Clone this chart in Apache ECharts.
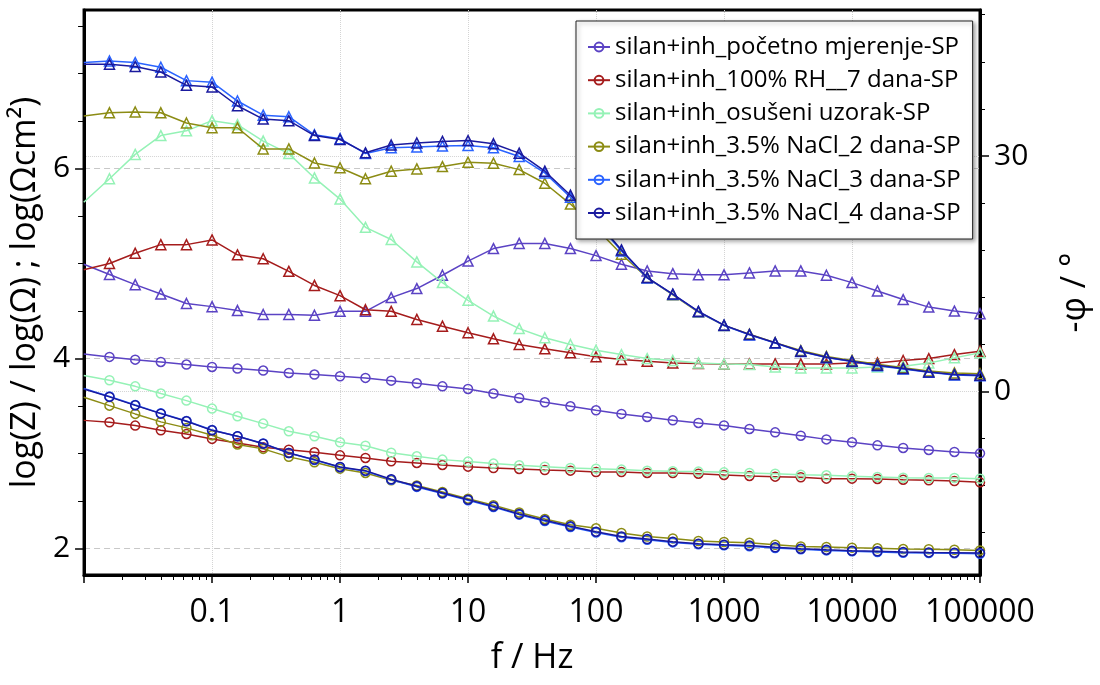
<!DOCTYPE html>
<html>
<head>
<meta charset="utf-8">
<script src="https://cdn.jsdelivr.net/npm/echarts@6/dist/echarts.min.js"></script>
<style>html,body{margin:0;padding:0;background:#fff}#c{width:1100px;height:685px}</style>
</head>
<body>
<div id="c"></div>
<script>
// ---------- data ----------
const freq = [0.00995, 0.0158, 0.0251, 0.0398, 0.0631, 0.1, 0.158, 0.251, 0.398, 0.631, 1, 1.58, 2.51, 3.98, 6.31, 10, 15.8, 25.1, 39.8, 63.1, 100, 158, 251, 398, 631, 1000, 1580, 2510, 3980, 6310, 10000, 15800, 25100, 39800, 63100, 100000];

const seriesNames = [
  'silan+inh_početno mjerenje-SP',
  'silan+inh_100% RH__7 dana-SP',
  'silan+inh_osušeni uzorak-SP',
  'silan+inh_3.5% NaCl_2 dana-SP',
  'silan+inh_3.5% NaCl_3 dana-SP',
  'silan+inh_3.5% NaCl_4 dana-SP'
];
const seriesColors = ['#5b43c4', '#a51c1c', '#95f2b6', '#8c8c14', '#2a63ff', '#1a1a9e'];

// log|Z| (circles, left axis)
const logZ_pocetno = [4.049,4.018,3.989,3.965,3.937,3.912,3.895,3.874,3.849,3.832,3.814,3.797,3.768,3.74,3.708,3.681,3.632,3.586,3.54,3.498,3.456,3.418,3.386,3.351,3.323,3.297,3.26,3.224,3.189,3.15,3.119,3.087,3.06,3.039,3.018,3.003];
const logZ_RH7 = [3.35,3.33,3.295,3.245,3.207,3.155,3.112,3.066,3.042,3.014,2.982,2.955,2.919,2.902,2.881,2.863,2.849,2.839,2.828,2.821,2.807,2.807,2.797,2.797,2.789,2.776,2.765,2.758,2.751,2.737,2.737,2.734,2.726,2.719,2.712,2.698];
const logZ_osuseni = [3.821,3.772,3.708,3.632,3.558,3.474,3.393,3.316,3.235,3.182,3.119,3.084,3.01,2.972,2.937,2.916,2.895,2.877,2.863,2.849,2.842,2.832,2.821,2.814,2.811,2.803,2.797,2.789,2.779,2.772,2.761,2.755,2.747,2.744,2.744,2.737];
const logZ_NaCl2 = [3.593,3.505,3.418,3.334,3.271,3.193,3.095,3.05,2.966,2.909,2.842,2.797,2.719,2.665,2.596,2.526,2.458,2.38,2.313,2.252,2.214,2.165,2.129,2.108,2.081,2.07,2.062,2.042,2.024,2.018,2.011,2.004,1.996,1.994,1.989,1.982];
const logZ_NaCl3 = [3.686,3.601,3.512,3.424,3.343,3.248,3.184,3.106,3.006,2.934,2.856,2.816,2.724,2.65,2.58,2.51,2.438,2.358,2.29,2.228,2.171,2.121,2.094,2.066,2.046,2.035,2.026,2.007,1.993,1.982,1.972,1.965,1.958,1.954,1.951,1.947];
const logZ_NaCl4 = [3.681,3.597,3.508,3.421,3.34,3.245,3.182,3.105,3.007,2.937,2.86,2.821,2.73,2.656,2.586,2.516,2.445,2.365,2.298,2.235,2.179,2.129,2.102,2.074,2.053,2.042,2.033,2.014,2.0,1.989,1.979,1.972,1.965,1.961,1.958,1.954];

// -phase (triangles, right axis)
const phi_pocetno = [16.2,14.9,13.6,12.4,11.2,10.8,10.3,9.8,9.8,9.7,10.2,10.2,11.95,13.1,14.8,16.6,18.2,18.85,18.85,18.2,17.3,16.2,15.35,15.0,14.85,14.85,15.1,15.35,15.35,14.8,13.86,12.8,11.7,10.74,10.23,9.9];
const phi_RH7 = [15.5,16.3,17.6,18.7,18.7,19.3,17.4,16.9,15.3,13.5,12.2,10.4,10.2,9.17,8.31,7.47,6.7,5.97,5.42,4.91,4.4,4.05,3.84,3.63,3.54,3.45,3.5,3.5,3.5,3.5,3.63,3.63,3.93,4.18,4.69,5.12];
const phi_osuseni = [24.1,27.1,30.2,32.6,33.2,34.5,34.0,31.9,30.3,27.2,24.5,20.9,19.35,16.5,13.86,11.6,9.6,8.0,6.83,5.97,5.24,4.69,4.18,3.93,3.63,3.5,3.41,3.12,2.99,2.99,2.99,3.12,3.2,3.63,4.27,4.91];
const phi_NaCl2 = [35.1,35.5,35.6,35.5,34.2,33.6,33.6,30.9,30.9,29.1,28.5,27.1,28.06,28.35,28.65,29.2,29.08,28.26,26.52,23.87,20.8,17.48,14.5,12.3,10.1,8.4,7.3,6.2,5.2,4.45,3.95,3.45,3.0,2.6,2.35,2.26];
const phi_NaCl3 = [41.9,42.1,41.9,41.3,39.6,39.4,37.0,35.2,35.0,32.7,32.2,30.3,31.04,31.13,31.26,31.33,31.04,29.93,27.84,24.73,21.6,17.9,14.45,12.35,10.15,8.4,7.2,6.15,5.08,4.3,3.8,3.28,2.86,2.45,2.1,2.0];
const phi_NaCl4 = [41.7,41.7,41.4,40.7,39.0,38.8,36.4,34.7,34.5,32.6,32.1,30.4,31.4,31.65,31.85,31.96,31.55,30.36,28.06,25.0,21.8,18.03,14.5,12.4,10.2,8.44,7.25,6.19,5.12,4.35,3.84,3.32,2.9,2.48,2.14,2.05];

// ticks
const xLabelValues = [0.1, 1, 10, 100, 1000, 10000, 100000];
const xTickLabels = ['0.1', '1', '10', '100', '1000', '10000', '100000'];
const xMinorTicks = [0.02,0.03,0.04,0.05,0.06,0.07,0.08,0.09, 0.2,0.3,0.4,0.5,0.6,0.7,0.8,0.9, 2,3,4,5,6,7,8,9, 20,30,40,50,60,70,80,90, 200,300,400,500,600,700,800,900, 2000,3000,4000,5000,6000,7000,8000,9000, 20000,30000,40000,50000,60000,70000,80000,90000];
const leftTicks = [2, 4, 6];
const leftMinorTicks = [2.5, 3, 3.5, 4.5, 5, 5.5, 6.5, 7, 7.5];
const rightTicks = [0, 30];
const rightMinorTicks = [-18, -12, -6, 6, 12, 18, 24, 36, 42, 48];

// ---------- chart ----------
const FONT = 'Open Sans';
const logZ = [logZ_pocetno, logZ_RH7, logZ_osuseni, logZ_NaCl2, logZ_NaCl3, logZ_NaCl4];
const phi = [phi_pocetno, phi_RH7, phi_osuseni, phi_NaCl2, phi_NaCl3, phi_NaCl4];

function mkSeries(k, vals, yIdx, symbol, size) {
  return {
    name: seriesNames[k], type: 'line', xAxisIndex: 0, yAxisIndex: yIdx,
    data: freq.map((f, i) => [f, vals[i]]),
    symbol: symbol, symbolSize: size, showAllSymbol: true,
    lineStyle: { color: seriesColors[k], width: 1.5 },
    itemStyle: { color: 'transparent', borderColor: seriesColors[k], borderWidth: 1.5 },
    emphasis: { disabled: true }, animation: false, z: 2 + k * 0.01
  };
}
const series = [];
for (let k = 0; k < 6; k++) series.push(mkSeries(k, logZ[k], 0, 'circle', 9));
for (let k = 0; k < 6; k++) series.push(mkSeries(k, phi[k], 2, 'triangle', 10));

const axisLineStyle = { color: '#000', width: 3 };
const option = {
  animation: false,
  backgroundColor: '#fff',
  grid: { left: 83, top: 10, width: 898, height: 565, show: true, borderColor: '#000', borderWidth: 3, backgroundColor: 'transparent' },
  legend: {
    data: seriesNames, orient: 'vertical', left: 576, top: 21,
    padding: [14, 12, 14, 11], itemWidth: 22, itemHeight: 11, itemGap: 9.2,
    backgroundColor: '#fff', borderColor: '#222', borderWidth: 1,
    shadowColor: 'rgba(0,0,0,0.35)', shadowBlur: 4, shadowOffsetX: 2, shadowOffsetY: 2,
    textStyle: { fontFamily: FONT, fontSize: 24, color: '#000', lineHeight: 24 },
    selectedMode: false
  },
  xAxis: [
    {
      type: 'log', logBase: 10, min: 0.01, max: 100000, position: 'bottom',
      axisLine: { show: true, onZero: false, lineStyle: axisLineStyle },
      axisTick: { show: true, length: 8, lineStyle: { color: '#000', width: 1.5 } },
      axisLabel: {
        customValues: xLabelValues, fontFamily: FONT, fontSize: 32, color: '#000', margin: 22,
        formatter: v => xTickLabels[Math.round(Math.log10(v)) + 1]
      },
      splitLine: { show: true, lineStyle: { color: '#d4d4d4', type: 'dotted', width: 1 } },
      name: 'f / Hz', nameLocation: 'middle', nameGap: 66,
      nameTextStyle: { fontFamily: FONT, fontSize: 34, color: '#000' }
    },
    {
      type: 'log', logBase: 10, min: 0.01, max: 100000, position: 'bottom',
      axisLine: { show: false, onZero: false },
      axisTick: { show: true, customValues: xMinorTicks, length: 5, lineStyle: { color: '#000', width: 1 } },
      axisLabel: { show: false }, splitLine: { show: false }
    }
  ],
  yAxis: [
    {
      type: 'value', min: 1.723, max: 7.668, position: 'left',
      axisLine: { show: true, onZero: false, lineStyle: axisLineStyle },
      axisTick: { show: true, customValues: leftTicks, length: 9, lineStyle: { color: '#000', width: 1.5 } },
      axisLabel: { customValues: leftTicks, fontFamily: FONT, fontSize: 30, color: '#000', margin: 14 },
      splitLine: { show: true, lineStyle: { color: '#c8c8c8', type: [6, 4], width: 1 } },
      name: 'log(Z) / log(Ω) ; log(Ωcm²)', nameLocation: 'middle', nameGap: 42, nameRotate: 90,
      nameTextStyle: { fontFamily: FONT, fontSize: 34, color: '#000' }
    },
    {
      type: 'value', min: 1.723, max: 7.668, position: 'left',
      axisLine: { show: false, onZero: false },
      axisTick: { show: true, customValues: leftMinorTicks, length: 6, lineStyle: { color: '#000', width: 1 } },
      axisLabel: { show: false }, splitLine: { show: false }
    },
    {
      type: 'value', min: -23.4, max: 48.6, position: 'right',
      axisLine: { show: true, onZero: false, lineStyle: axisLineStyle },
      axisTick: { show: true, customValues: rightTicks, length: 9, lineStyle: { color: '#000', width: 1.5 } },
      axisLabel: { customValues: rightTicks, fontFamily: FONT, fontSize: 30, color: '#000', margin: 14 },
      splitLine: { show: true, lineStyle: { color: '#d4d4d4', type: 'dotted', width: 1 } },
      name: '-φ / °', nameLocation: 'middle', nameGap: 78, nameRotate: 90,
      nameTextStyle: { fontFamily: FONT, fontSize: 34, color: '#000' }
    },
    {
      type: 'value', min: -23.4, max: 48.6, position: 'right',
      axisLine: { show: false, onZero: false },
      axisTick: { show: true, customValues: rightMinorTicks, length: 5, lineStyle: { color: '#000', width: 1 } },
      axisLabel: { show: false }, splitLine: { show: false }
    }
  ],
  series: series
};
const chart = echarts.init(document.getElementById('c'), null, { renderer: 'canvas' });
chart.setOption(option);
</script>
</body>
</html>
